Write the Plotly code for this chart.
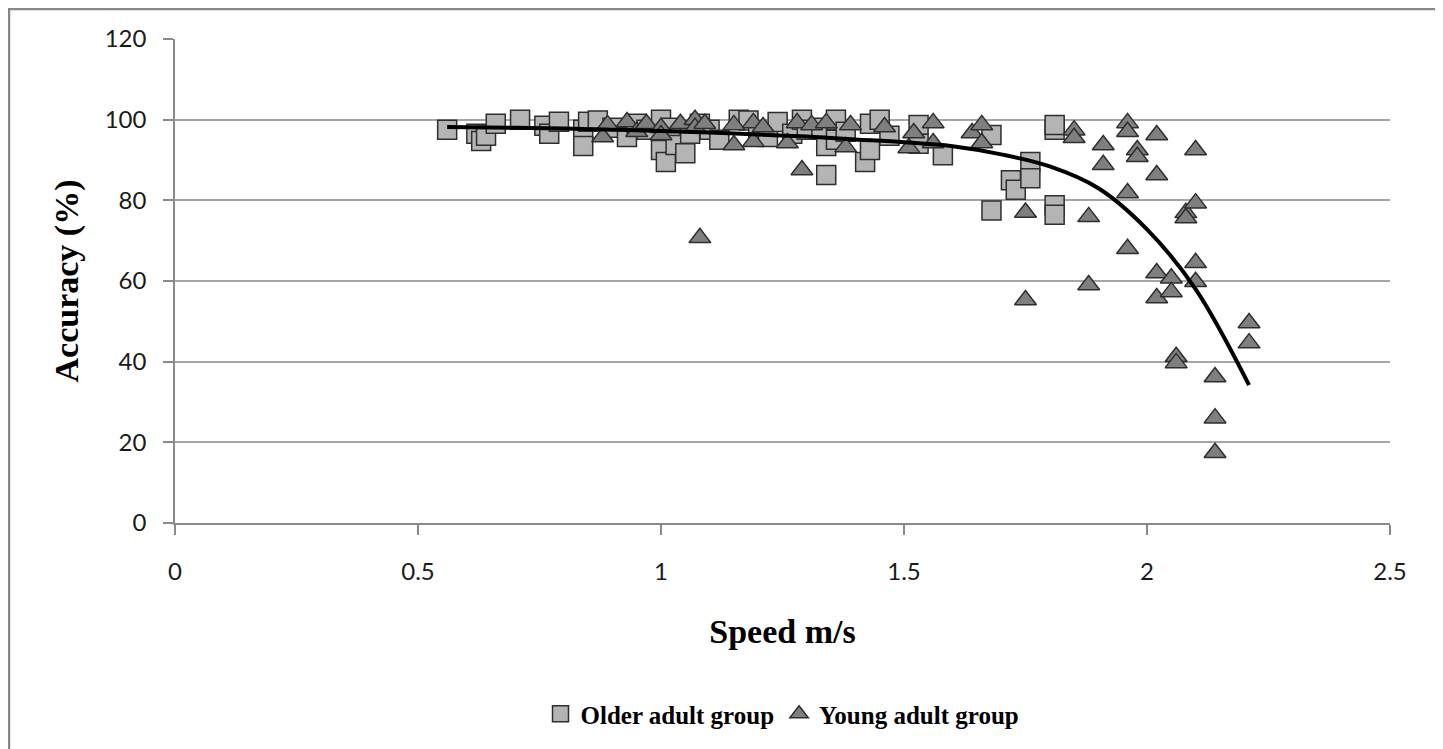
import plotly.graph_objects as go

# ---------------- data ----------------
older_speed = [0.56, 0.62, 0.63, 0.64, 0.66, 0.71, 0.76, 0.77, 0.79, 0.84, 0.84, 0.85,
               0.87, 0.90, 0.93, 0.95, 0.97, 1.00, 1.00, 1.01, 1.02, 1.03, 1.05, 1.06,
               1.08, 1.10, 1.12, 1.16, 1.18, 1.20, 1.22, 1.24, 1.27, 1.29, 1.30, 1.33,
               1.34, 1.34, 1.36, 1.36, 1.38, 1.42, 1.43, 1.43, 1.45, 1.47, 1.53, 1.53,
               1.58, 1.68, 1.68, 1.72, 1.73, 1.76, 1.76, 1.81, 1.81, 1.81, 1.81]
older_acc = [97.5, 96.5, 94.7, 96.0, 99.0, 100.0, 98.5, 96.5, 99.5, 97.5, 93.5, 99.5,
             99.8, 98.0, 95.7, 99.0, 97.5, 100.0, 92.5, 89.5, 98.0, 93.7, 91.7, 96.5,
             99.0, 97.5, 95.0, 100.0, 99.8, 96.5, 95.7, 99.4, 96.5, 100.0, 97.5, 98.0,
             93.5, 86.3, 100.0, 95.0, 97.0, 89.5, 92.5, 99.0, 100.0, 96.0, 98.7, 94.0,
             91.2, 96.2, 77.5, 85.0, 82.6, 89.5, 85.5, 97.5, 98.7, 78.8, 76.4]

young_speed = [0.88, 0.89, 0.93, 0.95, 0.97, 1.00, 1.00, 1.04, 1.07, 1.07, 1.08, 1.09,
               1.15, 1.15, 1.19, 1.19, 1.21, 1.26, 1.28, 1.29, 1.31, 1.34, 1.39, 1.38,
               1.46, 1.52, 1.51, 1.56, 1.56, 1.64, 1.66, 1.66, 1.75, 1.75, 1.85, 1.85,
               1.88, 1.88, 1.91, 1.91, 1.96, 1.96, 1.96, 1.96, 1.98, 1.98, 2.02, 2.02,
               2.02, 2.02, 2.05, 2.05, 2.06, 2.06, 2.08, 2.08, 2.10, 2.10, 2.10, 2.10,
               2.14, 2.14, 2.14, 2.21, 2.21]
young_acc = [95.7, 98.7, 99.4, 97.0, 99.0, 98.0, 96.2, 99.0, 100.0, 98.0, 70.7, 99.0,
             98.7, 93.7, 99.2, 94.5, 98.2, 94.2, 99.2, 87.5, 98.7, 99.2, 98.7, 93.2,
             98.2, 96.7, 93.0, 99.2, 94.2, 96.7, 98.7, 94.2, 77.0, 55.3, 97.4, 95.5,
             75.9, 59.0, 93.7, 88.8, 99.2, 97.0, 81.8, 68.0, 92.5, 90.8, 96.2, 86.3,
             62.0, 55.8, 60.7, 57.3, 41.2, 39.7, 76.9, 75.6, 92.5, 79.3, 64.5, 59.8,
             36.2, 26.0, 17.4, 49.6, 44.6]

# trend line
trend_speed = [0.56, 0.7, 0.8, 0.9, 1.0, 1.1, 1.2, 1.3, 1.4, 1.5, 1.6, 1.7, 1.8,
               1.9, 2.0, 2.1, 2.21]
trend_acc = [98.2, 98.0, 97.8, 97.5, 97.2, 96.8, 96.3, 95.8, 95.1, 94.4, 93.4, 91.4,
             88.4, 83.0, 72.8, 58.0, 34.2]

x_ticks = [0, 0.5, 1, 1.5, 2, 2.5]
x_tick_text = ["0", "0.5", "1", "1.5", "2", "2.5"]
y_ticks = [0, 20, 40, 60, 80, 100, 120]

# ---------------- figure ----------------
# page body has an 8px margin, so figure coordinates = page coordinates - 8
W, H = 1435, 741
L, R, T = 167, 53, 31
B = H - 515
pw, ph = W - L - R, H - T - B

fig = go.Figure()
fig.add_trace(go.Scatter(
    x=older_speed, y=older_acc, mode="markers", name="Older adult group",
    marker=dict(symbol="square", size=19, color="#b4b4b4",
                line=dict(color="#2e2e2e", width=1.5))))
fig.add_trace(go.Scatter(
    x=young_speed, y=young_acc, mode="markers", name="Young adult group",
    marker=dict(symbol="triangle-up", size=19, color="#7f7f7f",
                line=dict(color="#2e2e2e", width=1.5))))
fig.add_trace(go.Scatter(
    x=trend_speed, y=trend_acc, mode="lines", showlegend=False,
    line=dict(color="black", width=4, shape="spline", smoothing=1.0),
    hoverinfo="skip"))

serif = "Liberation Serif, Times New Roman, serif"
sans = "Lato, Carlito, Calibri, sans-serif"

fig.update_layout(
    width=W, height=H,
    margin=dict(l=L, r=R, t=T, b=B, pad=0),
    paper_bgcolor="white", plot_bgcolor="white",
    showlegend=True,
    legend=dict(orientation="h", x=0.5, xanchor="center",
                y=(T + ph - 706) / ph, yanchor="middle",
                font=dict(family=serif, size=25, color="black", weight="bold"),
                itemwidth=30, bgcolor="rgba(0,0,0,0)"),
    xaxis=dict(range=[0, 2.5], tickvals=x_ticks, ticktext=x_tick_text,
               showgrid=False, zeroline=False, showline=True,
               linecolor="#8a8a8a", linewidth=1.5,
               ticks="outside", ticklen=10, tickcolor="#8a8a8a", tickwidth=1.5,
               ticklabelstandoff=16,
               tickfont=dict(family=sans, size=24, color="#1a1a1a"),
               title=dict(text="Speed m/s", standoff=36,
                          font=dict(family=serif, size=34, color="black",
                                    weight="bold"))),
    yaxis=dict(range=[0, 120], tickvals=y_ticks,
               showgrid=True, gridcolor="#a6a6a6", gridwidth=1.5,
               zeroline=False, showline=True,
               linecolor="#8a8a8a", linewidth=1.5,
               ticks="outside", ticklen=10, tickcolor="#8a8a8a", tickwidth=1.5,
               ticklabelstandoff=12,
               tickfont=dict(family=sans, size=24, color="#1a1a1a"),
               title=dict(text="Accuracy (%)", standoff=16,
                          font=dict(family=serif, size=34, color="black",
                                    weight="bold"))),
    shapes=[dict(type="rect", xref="paper", yref="paper",
                 x0=(1 - L) / pw, x1=(1431 - L) / pw,
                 y0=(T + ph - (H + 10)) / ph, y1=(T + ph - 1) / ph,
                 line=dict(color="#878787", width=2.5), fillcolor="rgba(0,0,0,0)",
                 layer="below")],
)

fig.write_html("out.html")
